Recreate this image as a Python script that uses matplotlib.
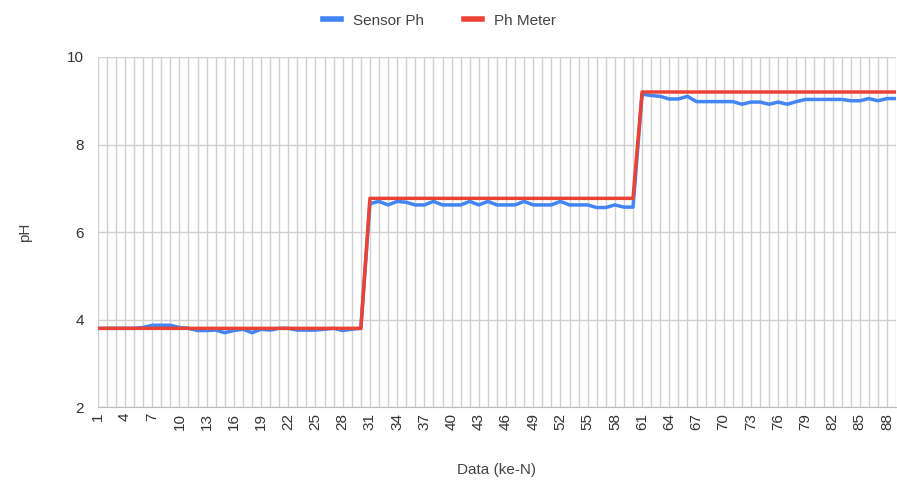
import matplotlib.pyplot as plt
from matplotlib.ticker import MultipleLocator

plt.rcParams['font.family'] = ['Liberation Sans', 'DejaVu Sans']

# Numéro de mesure (ke-N)
data_n = list(range(1, 90))

# Valeurs du capteur pH
sensor_ph = [
    3.80, 3.80, 3.80, 3.80, 3.80, 3.82, 3.87, 3.87, 3.87, 3.82,
    3.80, 3.75, 3.75, 3.76, 3.70, 3.75, 3.78, 3.70, 3.78, 3.76,
    3.80, 3.80, 3.76, 3.76, 3.76, 3.78, 3.80, 3.75, 3.78, 3.80,
    6.65, 6.70, 6.62, 6.70, 6.68, 6.62, 6.62, 6.70, 6.62, 6.62,
    6.62, 6.70, 6.62, 6.70, 6.62, 6.62, 6.62, 6.70, 6.62, 6.62,
    6.62, 6.70, 6.62, 6.62, 6.62, 6.56, 6.56, 6.62, 6.57, 6.57,
    9.15, 9.12, 9.10, 9.04, 9.04, 9.10, 8.98, 8.98, 8.98, 8.98,
    8.98, 8.92, 8.97, 8.97, 8.92, 8.97, 8.92, 8.98, 9.03, 9.03,
    9.03, 9.03, 9.03, 9.00, 9.00, 9.05, 9.00, 9.05, 9.05,
]

# Valeurs du pH-mètre
ph_meter = [3.80] * 30 + [6.77] * 30 + [9.20] * 29

fig = plt.figure(figsize=(8.97, 4.87), dpi=100)
ax = fig.add_axes([0.109, 0.164, 0.89, 0.719])

ax.plot(data_n, sensor_ph, color='#4285F4', linewidth=2.5, label='Sensor Ph', zorder=3)
ax.plot(data_n, ph_meter, color='#EA4335', linewidth=2.5, label='Ph Meter', zorder=4)

ax.set_xlim(1, 89)
ax.set_ylim(2, 10)
ax.set_xticks(data_n[::3])
ax.set_xticklabels([str(n) for n in data_n[::3]], rotation=90)
ax.xaxis.set_minor_locator(MultipleLocator(1))
ax.yaxis.set_major_locator(MultipleLocator(2))

ax.grid(True, which='both', axis='x', color='#d0d0d0', linewidth=1)
ax.grid(True, which='major', axis='y', color='#d0d0d0', linewidth=1)
ax.set_axisbelow(True)

for side in ['top', 'right', 'left']:
    ax.spines[side].set_visible(False)
ax.spines['bottom'].set_color('#bdbdbd')
ax.tick_params(axis='both', which='both', length=0, labelsize=11, colors='#333333')
ax.tick_params(axis='x', pad=4)
ax.tick_params(axis='y', pad=10)

ax.set_xlabel('Data (ke-N)', fontsize=11, color='#444444', labelpad=24)
ax.set_ylabel('pH', fontsize=11, color='#444444', labelpad=25)

fig.legend(loc='upper center', bbox_to_anchor=(0.49, 1.0), ncol=2, frameon=False,
           fontsize=11, labelcolor='#444444', handlelength=1.2, columnspacing=2.6,
           handletextpad=0.8)
for line in fig.legends[0].get_lines():
    line.set_linewidth(4)

plt.savefig('out.png')
